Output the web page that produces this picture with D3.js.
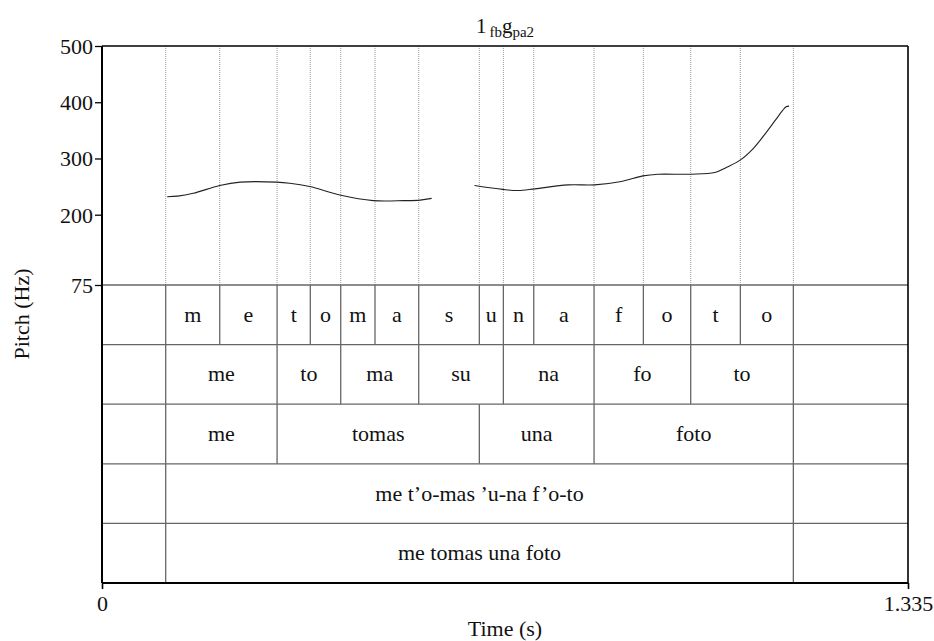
<!DOCTYPE html>
<html>
<head>
<meta charset="utf-8">
<script src="https://cdn.jsdelivr.net/npm/d3@7/dist/d3.min.js"></script>
<style>
  html, body { margin: 0; padding: 0; background: #fff; }
  svg { display: block; }
  text { font-family: "Liberation Serif", "Times New Roman", serif; fill: #111; }
</style>
</head>
<body>
<svg id="chart" width="934" height="641"></svg>
<script>
// ---------- data ----------
const timeDomain = [0, 1.335];
const pitchDomain = [75, 500];
const pitchTicks = [75, 200, 300, 400, 500];
const timeTicks = [0, 1.335];
const timeTickLabels = ["0", "1.335"];

const phoneLabels = ["m","e","t","o","m","a","s","u","n","a","f","o","t","o"];
const phoneBounds = [0.1055,0.195,0.290,0.345,0.3954,0.4522,0.5246,0.625,0.6648,0.7151,0.815,0.8967,0.9751,1.0573,1.1451];

const syllableLabels = ["me","to","ma","su","na","fo","to"];
const syllableBounds = [0.1055,0.290,0.3954,0.5246,0.6648,0.815,0.9751,1.1451];

const wordLabels = ["me","tomas","una","foto"];
const wordBounds = [0.1055,0.290,0.625,0.815,1.1451];

const stressLabels = ["me t\u2019o-mas \u2019u-na f\u2019o-to"];
const stressBounds = [0.1055,1.1451];

const sentenceLabels = ["me tomas una foto"];
const sentenceBounds = [0.1055,1.1451];

const pitchTime1 = [0.108,0.125,0.151,0.195,0.229,0.289,0.311,0.344,0.394,0.449,0.500,0.527,0.546];
const pitchHz1   = [232,  233,  238,  252,  258,  258,  256,  250,  235,  225,  225,  226,  229];

const pitchTime2 = [0.617,0.664,0.689,0.717,0.772,0.816,0.860,0.896,0.921,0.976,1.015,1.034,1.057,1.079,1.100,1.116,1.127,1.133,1.138];
const pitchHz2   = [252,  245,  243,  246,  253,  253,  259,  269,  272,  272,  275,  284,  297,  318,  346,  369,  385,  392,  393];

const tiers = [
  {labels: phoneLabels, bounds: phoneBounds},
  {labels: syllableLabels, bounds: syllableBounds},
  {labels: wordLabels, bounds: wordBounds},
  {labels: stressLabels, bounds: stressBounds},
  {labels: sentenceLabels, bounds: sentenceBounds}
];

// ---------- layout ----------
const svg = d3.select("#chart");
const pLeft = 102, pRight = 908, pTop = 46, pitchBottom = 285, pBottom = 583;

const x = d3.scaleLinear().domain(timeDomain).range([pLeft, pRight]);
const y = d3.scaleLinear().domain(pitchDomain).range([pitchBottom, pTop]);
const tierY = d3.scaleLinear().domain([0, tiers.length]).range([pitchBottom, pBottom]);

const gridColor = "#9a9a9a";
const tierLine = "#666";

// dotted grid lines in the pitch area at every phone boundary
svg.append("g").selectAll("line").data(phoneBounds).join("line")
  .attr("x1", d => x(d)).attr("x2", d => x(d))
  .attr("y1", pTop).attr("y2", pitchBottom)
  .attr("stroke", gridColor).attr("stroke-width", 1)
  .attr("stroke-dasharray", "1,1");

// tiers
tiers.forEach((tier, i) => {
  const g = svg.append("g");
  const y0 = tierY(i), y1 = tierY(i + 1);
  g.append("line").attr("x1", pLeft).attr("x2", pRight)
    .attr("y1", y1).attr("y2", y1)
    .attr("stroke", tierLine).attr("stroke-width", 1.3);
  g.selectAll("line.b").data(tier.bounds).join("line").attr("class", "b")
    .attr("x1", d => x(d)).attr("x2", d => x(d))
    .attr("y1", y0).attr("y2", y1)
    .attr("stroke", tierLine).attr("stroke-width", 1.3);
  const intervals = tier.labels.map((lab, k) => ({lab, a: tier.bounds[k], b: tier.bounds[k + 1]}));
  g.selectAll("text").data(intervals).join("text")
    .attr("x", d => (x(d.a) + x(d.b)) / 2)
    .attr("y", (y0 + y1) / 2 + 7)
    .attr("text-anchor", "middle")
    .attr("font-size", 22)
    .text(d => d.lab);
});

// 75 Hz line (top of tiers)
svg.append("line").attr("x1", pLeft).attr("x2", pRight)
  .attr("y1", y(75)).attr("y2", y(75))
  .attr("stroke", tierLine).attr("stroke-width", 1.3);

// pitch curve
const line = d3.line().x(d => x(d[0])).y(d => y(d[1])).curve(d3.curveCatmullRom.alpha(0.5));
[[pitchTime1, pitchHz1], [pitchTime2, pitchHz2]].forEach(([ts, hs]) => {
  svg.append("path")
    .datum(ts.map((t, k) => [t, hs[k]]))
    .attr("d", line)
    .attr("fill", "none")
    .attr("stroke", "#222")
    .attr("stroke-width", 1.1);
});

// frame
const frame = svg.append("g").attr("stroke", "#000").attr("fill", "none");
frame.append("line").attr("x1", pLeft).attr("x2", pRight).attr("y1", pTop).attr("y2", pTop).attr("stroke-width", 1.6);
frame.append("line").attr("x1", pRight).attr("x2", pRight).attr("y1", pTop).attr("y2", pBottom).attr("stroke-width", 1.6);
frame.append("line").attr("x1", pLeft).attr("x2", pLeft).attr("y1", pTop).attr("y2", pBottom).attr("stroke-width", 2);
frame.append("line").attr("x1", pLeft).attr("x2", pRight).attr("y1", pBottom).attr("y2", pBottom).attr("stroke-width", 2);

// y axis
const yAxis = svg.append("g").attr("transform", `translate(${pLeft},0)`)
  .call(d3.axisLeft(y).tickValues(pitchTicks).tickSize(7).tickPadding(2).tickFormat(d3.format("d")));
yAxis.select(".domain").remove();
yAxis.selectAll(".tick line").attr("stroke", "#000").attr("stroke-width", 1.3);
yAxis.selectAll(".tick text").attr("font-size", 22).attr("font-family", "Liberation Serif").attr("fill", "#111").attr("dy", "0.34em");

// x axis
const xAxis = svg.append("g").attr("transform", `translate(0,${pBottom})`)
  .call(d3.axisBottom(x).tickValues(timeTicks).tickSize(6).tickPadding(6)
        .tickFormat((d, k) => timeTickLabels[k]));
xAxis.select(".domain").remove();
xAxis.selectAll(".tick line").attr("stroke", "#000").attr("stroke-width", 1.6);
xAxis.selectAll(".tick text").attr("font-size", 22).attr("font-family", "Liberation Serif").attr("fill", "#111").attr("dy", "0.71em");

// axis titles
svg.append("text").attr("x", (pLeft + pRight) / 2).attr("y", 636)
  .attr("text-anchor", "middle").attr("font-size", 22).text("Time (s)");
svg.append("text").attr("transform", `translate(29,314) rotate(-90)`)
  .attr("text-anchor", "middle").attr("font-size", 22).text("Pitch (Hz)");

// title 1_{fb}g_{pa2}
const title = svg.append("text").attr("x", (pLeft + pRight) / 2).attr("y", 33)
  .attr("text-anchor", "middle").attr("font-size", 21);
title.append("tspan").text("1");
title.append("tspan").attr("font-size", 15).attr("dx", 3).attr("dy", 4).text("fb");
title.append("tspan").attr("dy", -4).text("g");
title.append("tspan").attr("font-size", 15).attr("dy", 4).text("pa2");
</script>
</body>
</html>
